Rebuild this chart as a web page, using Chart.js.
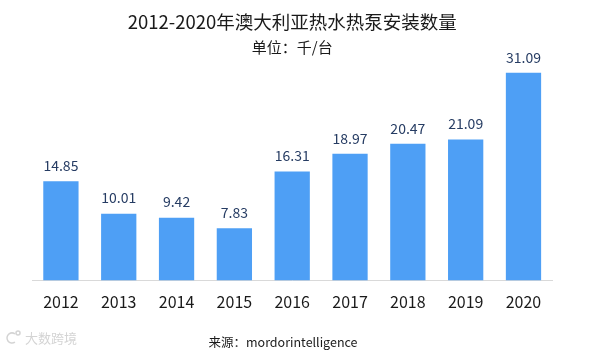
<!DOCTYPE html>
<html>
<head>
<meta charset="utf-8">
<script src="https://cdn.jsdelivr.net/npm/chart.js@4"></script>
<style>
  html, body { margin: 0; padding: 0; background: #fff; }
  #wrap { width: 611px; height: 352px; }
</style>
</head>
<body>
<div id="wrap"><canvas id="myChart" width="611" height="352"></canvas></div>
<script>
const anos = ['2012', '2013', '2014', '2015', '2016', '2017', '2018', '2019', '2020'];
const instalacoes = [14.85, 10.01, 9.42, 7.83, 16.31, 18.97, 20.47, 21.09, 31.09];

const titulo = '2012-2020年澳大利亚热水热泵安装数量';
const subtitulo = '单位：千/台';
const fonte = '来源：mordorintelligence';
const marca = '大数跨境';

const FAMILIA = '"Noto Sans CJK SC", "Noto Sans", sans-serif';

// textos fixos + rotulos de valor em cima das barras
const textos = {
  id: 'textos',
  afterDatasetsDraw(chart) {
    const ctx = chart.ctx;
    const area = chart.chartArea;
    const meio = (area.left + area.right) / 2;
    ctx.save();
    ctx.textAlign = 'center';
    ctx.textBaseline = 'middle';

    ctx.fillStyle = '#1a1a1a';
    ctx.font = '18.5px ' + FAMILIA;
    ctx.fillText(titulo, meio, 22);
    ctx.font = '15px ' + FAMILIA;
    ctx.fillText(subtitulo, meio, 47);

    ctx.fillStyle = '#263c63';
    ctx.font = '14px ' + FAMILIA;
    chart.getDatasetMeta(0).data.forEach((barra, i) => {
      ctx.fillText(instalacoes[i].toFixed(2), barra.x, barra.y - 15.5);
    });

    ctx.fillStyle = '#1a1a1a';
    ctx.font = '12.5px ' + FAMILIA;
    ctx.fillText(fonte, 283, 342);

    ctx.fillStyle = '#d4d4d4';
    ctx.font = '13px ' + FAMILIA;
    ctx.textAlign = 'left';
    ctx.fillText(marca, 25, 338);
    ctx.strokeStyle = '#d4d4d4';
    ctx.lineWidth = 1.5;
    ctx.beginPath();
    ctx.arc(12, 338, 5, 0.3 * Math.PI, 1.7 * Math.PI);
    ctx.stroke();
    ctx.beginPath();
    ctx.arc(18, 333, 2, 0, 2 * Math.PI);
    ctx.stroke();
    ctx.restore();
  }
};

const ctx = document.getElementById('myChart').getContext('2d');

new Chart(ctx, {
  type: 'bar',
  data: {
    labels: anos,
    datasets: [{
      label: '安装数量',
      data: instalacoes,
      backgroundColor: '#4e9ff5',
      barPercentage: 0.61,
      categoryPercentage: 1
    }]
  },
  options: {
    responsive: false,
    animation: false,
    layout: {
      padding: { left: 32, right: 58.6, top: 60, bottom: 29.4 }
    },
    plugins: {
      legend: { display: false },
      title: { display: false },
      tooltip: { enabled: false }
    },
    scales: {
      x: {
        grid: { display: false, drawTicks: false },
        border: { display: true, color: '#d9d9d9', width: 1 },
        ticks: {
          color: '#1a1a1a',
          padding: 11.4,
          font: { family: FAMILIA, size: 16 }
        }
      },
      y: {
        display: false,
        min: 0,
        max: 33
      }
    }
  },
  plugins: [textos]
});
</script>
</body>
</html>
